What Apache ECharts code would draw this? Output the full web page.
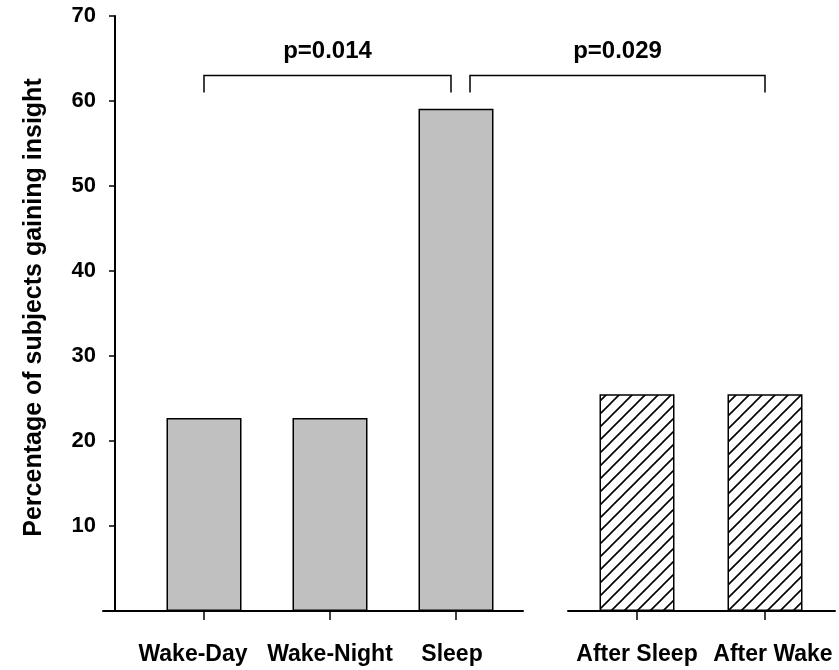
<!DOCTYPE html>
<html><head><meta charset="utf-8">
<script src="https://cdn.jsdelivr.net/npm/echarts@6/dist/echarts.min.js"></script>
<style>html,body{margin:0;padding:0;background:#fff}#c{width:839px;height:670px}</style>
</head><body><div id="c"></div>
<script>
// ---- data ----
const categoriesA = ['Wake-Day', 'Wake-Night', 'Sleep'];
const valuesA = [22.7, 22.7, 59.1];
const categoriesB = ['After Sleep', 'After Wake'];
const valuesB = [25.5, 25.5];
const yMin = 0, yMax = 70, yStep = 10;
const yTitle = 'Percentage of subjects gaining insight';
const comparisons = [
  { from: 'Wake-Day', to: 'Sleep', label: 'p=0.014' },
  { from: 'Sleep', to: 'After Wake', label: 'p=0.029' }
];
const bracketTop = 63, bracketLeg = 61, labelLevel = 65.8;

// ---- style ----
const FONT = '"Liberation Sans", Arial, Helvetica, sans-serif';
const TOP = 16, BOTTOM = 59;
const labelShiftA = [-11, 0, -4];
const labelShiftB = [0, 8];
const bracketInset = [[0, -5], [14, 0]];

function hatch() {
  const s = 13, c = document.createElement('canvas');
  c.width = s; c.height = s;
  const g = c.getContext('2d');
  g.fillStyle = '#fff'; g.fillRect(0, 0, s, s);
  g.strokeStyle = '#000'; g.lineWidth = 1.6;
  g.beginPath();
  g.moveTo(-1, s + 1); g.lineTo(s + 1, -1);
  g.moveTo(-2, 2); g.lineTo(2, -2);
  g.moveTo(s - 2, s + 2); g.lineTo(s + 2, s - 2);
  g.stroke();
  return c;
}

function catLabel(shifts, fs) {
  const rich = {};
  shifts.forEach((d, i) => {
    rich['s' + i] = {
      fontFamily: FONT, fontWeight: 'bold', fontSize: fs, color: '#000',
      padding: d < 0 ? [0, -2 * d, 0, 0] : [0, 0, 0, 2 * d]
    };
  });
  return {
    margin: 32, interval: 0, hideOverlap: false,
    fontFamily: FONT, fontWeight: 'bold', fontSize: fs, color: '#000',
    formatter: (v, i) => '{s' + i + '|' + v + '}',
    rich: rich
  };
}

const tickStyle = { show: true, alignWithLabel: true, interval: 0, length: 9, lineStyle: { color: '#000', width: 1.5 } };
const baseLine = { show: true, lineStyle: { color: '#000', width: 2 } };

const chart = echarts.init(document.getElementById('c'), null, { renderer: 'canvas' });
const option = {
  animation: false,
  backgroundColor: '#fff',
  grid: [
    { left: 141, width: 378, top: TOP, bottom: BOTTOM },
    { left: 103, width: 420, top: TOP, bottom: BOTTOM },
    { left: 573, width: 256, top: TOP, bottom: BOTTOM },
    { left: 568, width: 267, top: TOP, bottom: BOTTOM }
  ],
  xAxis: [
    { gridIndex: 0, type: 'category', data: categoriesA, axisLine: { show: false }, axisTick: tickStyle, axisLabel: catLabel(labelShiftA, 23), splitLine: { show: false } },
    { gridIndex: 1, type: 'category', data: [''], axisLine: baseLine, axisTick: { show: false }, axisLabel: { show: false } },
    { gridIndex: 2, type: 'category', data: categoriesB, axisLine: { show: false }, axisTick: tickStyle, axisLabel: catLabel(labelShiftB, 23), splitLine: { show: false } },
    { gridIndex: 3, type: 'category', data: [''], axisLine: baseLine, axisTick: { show: false }, axisLabel: { show: false } }
  ],
  yAxis: [
    {
      gridIndex: 0, type: 'value', min: yMin, max: yMax, interval: yStep, offset: 26,
      axisLine: { show: true, lineStyle: { color: '#000', width: 2 } },
      axisTick: { show: true, inside: false, length: 6, lineStyle: { color: '#000', width: 1.5 } },
      axisLabel: { margin: 19, fontFamily: FONT, fontWeight: 'bold', fontSize: 22, color: '#000', formatter: v => v === 0 ? '' : String(v) },
      splitLine: { show: false },
      name: yTitle, nameLocation: 'middle', nameGap: 68, nameRotate: 90,
      nameTextStyle: { fontFamily: FONT, fontWeight: 'bold', fontSize: 25, color: '#000', padding: [0, 0, 0, 12] }
    },
    { gridIndex: 1, type: 'value', min: yMin, max: yMax, show: false },
    { gridIndex: 2, type: 'value', min: yMin, max: yMax, show: false },
    { gridIndex: 3, type: 'value', min: yMin, max: yMax, show: false }
  ],
  series: [
    {
      type: 'bar', xAxisIndex: 0, yAxisIndex: 0, data: valuesA, barWidth: 75,
      itemStyle: { color: '#c0c0c0', borderColor: '#000', borderWidth: 1.5 }
    },
    {
      type: 'bar', xAxisIndex: 2, yAxisIndex: 2, data: valuesB, barWidth: 75,
      itemStyle: { color: { image: hatch(), repeat: 'repeat' }, borderColor: '#000', borderWidth: 1.5 }
    }
  ]
};
chart.setOption(option);

function px(cat, v) {
  let i = categoriesA.indexOf(cat);
  if (i >= 0) return chart.convertToPixel({ gridIndex: 0 }, [i, v]);
  i = categoriesB.indexOf(cat);
  return chart.convertToPixel({ gridIndex: 2 }, [i, v]);
}

const graphics = [];
comparisons.forEach((c, k) => {
  const a = px(c.from, bracketTop), b = px(c.to, bracketTop);
  const leg = px(c.from, bracketLeg)[1], lab = px(c.from, labelLevel)[1];
  const x1 = a[0] + bracketInset[k][0], x2 = b[0] + bracketInset[k][1], y = a[1];
  graphics.push({
    type: 'polyline', silent: true,
    shape: { points: [[x1, leg], [x1, y], [x2, y], [x2, leg]] },
    style: { stroke: '#000', lineWidth: 1.5, fill: null }
  });
  graphics.push({
    type: 'text', silent: true,
    style: { text: c.label, x: (x1 + x2) / 2, y: lab, align: 'center', textAlign: 'center', verticalAlign: 'middle', textVerticalAlign: 'middle',
      font: 'bold 24px ' + FONT, fill: '#000' }
  });
});
chart.setOption({ graphic: graphics });
</script>
</body></html>
